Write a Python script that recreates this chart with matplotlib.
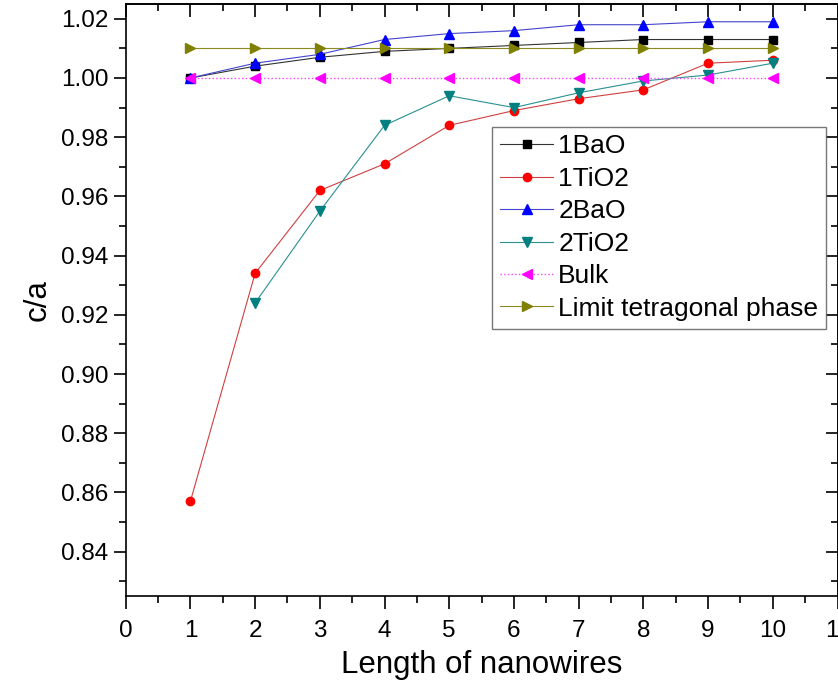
import numpy as np
import matplotlib
matplotlib.use("Agg")
import matplotlib.pyplot as plt
from matplotlib.ticker import MultipleLocator

plt.rcParams['font.family'] = ['Liberation Sans', 'DejaVu Sans']

# nanowire lengths
length = [1, 2, 3, 4, 5, 6, 7, 8, 9, 10]
length_2tio2 = [2, 3, 4, 5, 6, 7, 8, 9, 10]

# c/a ratios
ca_1bao = [1.000, 1.004, 1.007, 1.009, 1.010, 1.011, 1.012, 1.013, 1.013, 1.013]
ca_1tio2 = [0.857, 0.934, 0.962, 0.971, 0.984, 0.989, 0.993, 0.996, 1.005, 1.006]
ca_2bao = [1.000, 1.005, 1.008, 1.013, 1.015, 1.016, 1.018, 1.018, 1.019, 1.019]
ca_2tio2 = [0.924, 0.955, 0.984, 0.994, 0.990, 0.995, 0.999, 1.001, 1.005]
ca_bulk = [1.000] * 10
ca_limit = [1.010] * 10

fig = plt.figure(figsize=(8.38, 6.84), dpi=100)
ax = fig.add_axes([125.7 / 838, 88 / 684, (837.5 - 125.7) / 838, (596 - 4) / 684])

lw = 0.8
ms = 6
ax.plot(length, ca_1bao, '-', color='#333333', lw=lw, marker='s', ms=5.5,
        mfc='black', mec='black', label='1BaO')
ax.plot(length, ca_1tio2, '-', color='#d04040', lw=lw, marker='o', ms=ms,
        mfc='red', mec='red', label='1TiO2')
ax.plot(length, ca_2bao, '-', color='#4444cc', lw=lw, marker='^', ms=ms + 1,
        mfc='blue', mec='blue', label='2BaO')
ax.plot(length_2tio2, ca_2tio2, '-', color='#2a9090', lw=lw, marker='v', ms=ms + 1,
        mfc='#008080', mec='#008080', label='2TiO2')
ax.plot(length, ca_bulk, ':', color='#ff44ff', lw=1.0, marker='<', ms=ms + 1,
        mfc='#ff00ff', mec='#ff00ff', label='Bulk')
ax.plot(length, ca_limit, '-', color='#8a8a20', lw=lw, marker='>', ms=ms + 1,
        mfc='#808000', mec='#808000', label='Limit tetragonal phase')

ax.set_xlim(0, 11)
ax.set_ylim(0.825, 1.025)
ax.xaxis.set_major_locator(MultipleLocator(1))
ax.xaxis.set_minor_locator(MultipleLocator(0.5))
ax.yaxis.set_major_locator(MultipleLocator(0.02))
ax.yaxis.set_minor_locator(MultipleLocator(0.01))
ax.yaxis.set_major_formatter(matplotlib.ticker.FormatStrFormatter('%.2f'))

ax.tick_params(which='both', direction='out', labelsize=17.5, width=1.2,
               top=False, right=False)
ax.tick_params(which='major', length=9)
ax.tick_params(which='minor', length=5)
ax.tick_params(axis='x', pad=8)

# mirrored inward ticks on top and right
sec_x = ax.secondary_xaxis('top')
sec_x.xaxis.set_major_locator(MultipleLocator(1))
sec_x.xaxis.set_minor_locator(MultipleLocator(0.5))
sec_x.tick_params(which='both', direction='in', labeltop=False, width=1.2)
sec_x.tick_params(which='major', length=9)
sec_x.tick_params(which='minor', length=5)
sec_y = ax.secondary_yaxis('right')
sec_y.yaxis.set_major_locator(MultipleLocator(0.02))
sec_y.yaxis.set_minor_locator(MultipleLocator(0.01))
sec_y.tick_params(which='both', direction='in', labelright=False, width=1.2)
sec_y.tick_params(which='major', length=9)
sec_y.tick_params(which='minor', length=5)

for s in ax.spines.values():
    s.set_linewidth(1.2)
for s in list(sec_x.spines.values()) + list(sec_y.spines.values()):
    s.set_linewidth(1.2)

ax.set_xlabel('Length of nanowires', fontsize=22.5, labelpad=6)
ax.set_ylabel('c/a', fontsize=22.5, labelpad=6)

leg = ax.legend(loc='upper left', bbox_to_anchor=(0.515, 0.793), fontsize=19,
                frameon=True, fancybox=False, borderpad=0.3, labelspacing=0.32,
                handlelength=2.0, handletextpad=0.2, borderaxespad=0)
leg.get_frame().set_edgecolor('#555555')
leg.get_frame().set_linewidth(1.0)

fig.savefig('out.png', dpi=100)
